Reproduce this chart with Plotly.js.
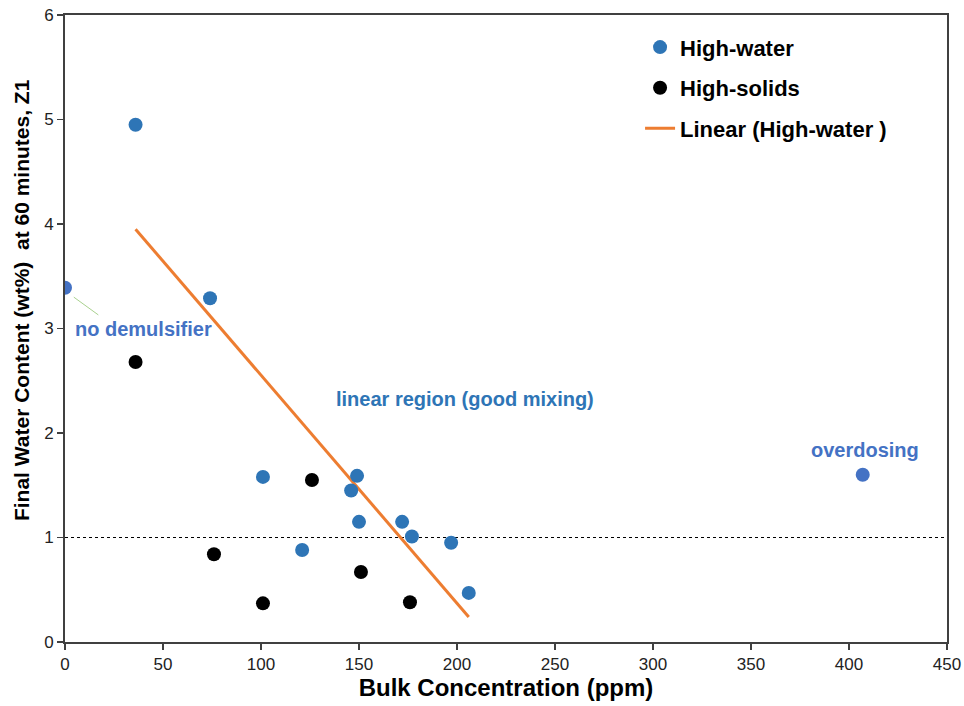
<!DOCTYPE html>
<html>
<head>
<meta charset="utf-8">
<script src="https://cdn.plot.ly/plotly-3.0.1.min.js"></script>
<style>body{margin:0;padding:0;background:#fff;}#chart{width:964px;height:706px;}</style>
</head>
<body>
<div id="chart"></div>
<script>
// High-water series (main)
const highWaterX = [36, 74, 101, 149, 146, 150, 172, 177, 197, 121, 206];
const highWaterY = [4.95, 3.29, 1.58, 1.59, 1.45, 1.15, 1.15, 1.01, 0.95, 0.88, 0.47];
// High-water special points (no demulsifier, overdosing)
const highWaterSpecialX = [0, 407];
const highWaterSpecialY = [3.39, 1.6];
// High-solids series
const highSolidsX = [36, 126, 76, 101, 151, 176];
const highSolidsY = [2.68, 1.55, 0.84, 0.37, 0.67, 0.38];
// Linear trend (High-water) endpoints
const trendX = [36, 206];
const trendY = [3.95, 0.24];
// Reference line at 1 wt%
const refX = [0, 450];
const refY = [1, 1];
const xTicks = [0, 50, 100, 150, 200, 250, 300, 350, 400, 450];
const yTicks = [0, 1, 2, 3, 4, 5, 6];

const font = "Liberation Sans, Arial, sans-serif";

const traces = [
  {x: refX, y: refY, mode: 'lines', line: {color: '#000', width: 1, dash: 'dot'}, showlegend: false, hoverinfo: 'skip'},
  {x: trendX, y: trendY, mode: 'lines', name: 'Linear (High-water )', line: {color: '#ED7D31', width: 3}, legendgroup: 'c', legendrank: 3},
  {x: highWaterSpecialX, y: highWaterSpecialY, mode: 'markers', marker: {color: '#4472C4', size: 14}, showlegend: false},
  {x: highWaterX, y: highWaterY, mode: 'markers', name: 'High-water', marker: {color: '#2E75B6', size: 14}, legendgroup: 'a', legendrank: 1},
  {x: highSolidsX, y: highSolidsY, mode: 'markers', name: 'High-solids', marker: {color: '#000', size: 14}, legendgroup: 'b', legendrank: 2}
];

const layout = {
  width: 964, height: 706,
  margin: {l: 65, r: 17, t: 15, b: 64},
  paper_bgcolor: '#fff', plot_bgcolor: '#fff',
  font: {family: font, color: '#000'},
  showlegend: true,
  legend: {x: 0.652, y: 0.982, xanchor: 'left', yanchor: 'top', font: {size: 22, family: font, color: '#000', weight: 'bold'},
           bgcolor: 'rgba(0,0,0,0)', traceorder: 'grouped', tracegroupgap: 9, itemwidth: 30},
  xaxis: {range: [0, 450], tickvals: xTicks, ticks: 'outside', ticklen: 6, tickwidth: 1.5, tickcolor: '#404040',
          showgrid: false, zeroline: false, showline: true, linecolor: '#404040', linewidth: 2, mirror: true,
          tickfont: {size: 17, color: '#222'},
          title: {text: '<b>Bulk Concentration (ppm)</b>', font: {size: 24, color: '#000'}, standoff: 6}},
  yaxis: {range: [0, 6], tickvals: yTicks, ticks: 'outside', ticklen: 6, tickwidth: 1.5, tickcolor: '#404040',
          showgrid: false, zeroline: false, showline: true, linecolor: '#404040', linewidth: 2, mirror: true,
          tickfont: {size: 17, color: '#222'}},
  shapes: [
    {type: 'line', xref: 'x', yref: 'y', x0: 4.5, y0: 3.3, x1: 17, y1: 3.13, line: {color: '#A9D18E', width: 1}}
  ],
  annotations: [
    {x: -0.049, y: 0.545, xref: 'paper', yref: 'paper', text: '<b>Final Water Content (wt%)  at 60 minutes, Z1</b>',
     textangle: -90, showarrow: false, xanchor: 'center', yanchor: 'middle', font: {size: 21, color: '#000'}},
    {x: 4, y: 3.0, xref: 'x', yref: 'y', text: '<b>no demulsifier</b>', showarrow: false, xanchor: 'left',
     font: {size: 20, color: '#4472C4'}},
    {x: 204, y: 2.33, xref: 'x', yref: 'y', text: '<b>linear region (good mixing)</b>', showarrow: false,
     font: {size: 20, color: '#2E75B6'}},
    {x: 408, y: 1.84, xref: 'x', yref: 'y', text: '<b>overdosing</b>', showarrow: false,
     font: {size: 20, color: '#4472C4'}}
  ]
};

Plotly.newPlot('chart', traces, layout, {displayModeBar: false, staticPlot: true});
</script>
</body>
</html>
